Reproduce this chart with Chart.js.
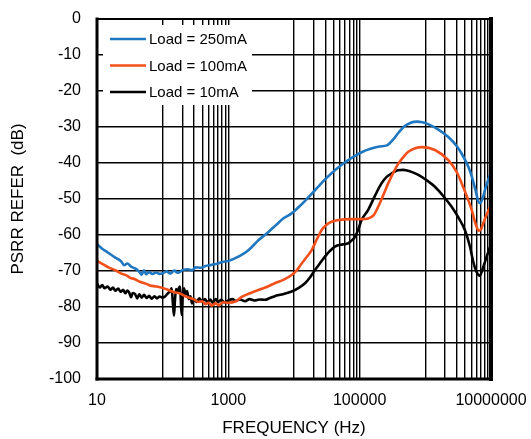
<!DOCTYPE html>
<html>
<head>
<meta charset="utf-8">
<script src="https://cdn.jsdelivr.net/npm/chart.js@4"></script>
<style>
    body { margin: 0; background: #fff; }
    #wrap { width: 531px; height: 439px; }
</style>
</head>
<body>
<div id="wrap"><canvas id="psrrChart"></canvas></div>
<script>
// -------------- Datos --------------

const freq250 = [10, 12, 15, 19, 23, 26, 29, 33, 38, 44, 48, 52, 56, 62, 70, 80, 90, 100, 115, 130, 150, 170, 200, 240, 280, 320, 380, 450, 550, 700, 850, 1000,
    1500, 2000, 2900, 4000, 5500, 7000, 9200, 13000, 21000, 30000, 42000, 60000, 80000, 107000, 150000, 200000, 260000, 320000, 390000, 480000, 600000, 750000, 900000,
    1100000, 1600000, 2240000, 3000000, 3600000, 4500000, 5100000, 5800000, 6400000, 6800000, 7400000, 8300000, 10000000];
const psrr250 = [-62.6, -63.8, -65.0, -66.3, -67.2, -68.4, -67.9, -68.8, -69.3, -70.2, -71.0, -69.8, -70.9, -70.3, -70.8, -70.4, -70.8, -70.6, -70.1, -70.7, -69.9, -70.5, -69.8, -69.5, -69.8, -69.0, -69.1, -68.6, -68.3, -67.9, -67.4, -67.2,
    -65.8, -64.3, -61.4, -59.3, -57.0, -55.3, -54.0, -51.5, -47.5, -44.5, -42.0, -39.8, -38.3, -37.0, -36.0, -35.4, -35.1, -33.6, -31.6, -29.8, -28.8, -28.5, -28.7,
    -29.2, -30.8, -32.8, -35.3, -37.5, -41.0, -43.8, -47.5, -50.6, -51.2, -50.0, -46.8, -42.5];

const freq100 = [10, 12, 15, 19, 24, 28, 32, 38, 45, 55, 64, 80, 100, 120, 150, 180, 220, 260, 300, 350, 400, 450, 500, 560, 640, 720, 820, 1000,
    1300, 1600, 2000, 2860, 4000, 5100, 7000, 9200, 11000, 13100, 15500, 18600, 22000, 26400, 31000, 37500, 50000, 70000, 107000, 135000, 165000, 192000,
    230000, 273000, 330000, 390000, 470000, 550000, 700000, 900000, 1400000, 2240000, 3000000, 3570000, 4300000, 5080000, 5800000, 6500000, 7000000, 7600000, 8500000, 10000000];
const psrr100 = [-67.2, -68.0, -69.0, -69.8, -70.8, -71.2, -71.9, -72.3, -73.0, -73.5, -74.0, -74.3, -74.7, -75.2, -75.9, -76.2, -77.0, -77.5, -77.9, -78.6, -78.4, -79.2, -78.8, -79.6, -79.0, -79.5, -78.7, -78.8,
    -78.4, -77.2, -76.4, -75.3, -74.3, -73.4, -72.4, -71.1, -69.8, -67.9, -66.2, -64.2, -61.4, -58.6, -57.2, -56.3, -55.8, -55.6, -55.6, -55.4, -54.4, -52.1,
    -48.8, -45.6, -42.5, -40.1, -38.2, -36.9, -35.9, -35.6, -36.4, -39.2, -42.5, -45.6, -49.3, -53.0, -56.8, -58.8, -58.5, -56.8, -54.5, -51.5];

const freq10 = [10, 11, 12, 13, 14.5, 16, 17.5, 19, 21, 23, 25, 27, 29, 31, 33, 35, 38, 41, 44, 48, 52, 57, 62, 68, 75, 82, 90, 100,
    110, 120, 130, 137, 143, 149, 154, 160, 170, 178, 184, 190, 195, 201, 211, 222, 235, 250, 265, 280, 300, 330, 360, 400, 440, 480, 530, 580, 640, 700, 780, 870, 1000,
    1150, 1300, 1500, 1800, 2100, 2500, 3000, 3600, 4300, 5100, 6500, 9200, 12000, 14700, 17500, 20900, 25000, 29600, 35000, 42000, 55000, 67100, 78000, 85000, 95000,
    107000, 135000, 170000, 216000, 260000, 308000, 380000, 462000, 600000, 782000, 1050000, 1400000, 1900000, 2500000, 3200000, 4000000, 4780000, 5380000, 6000000, 6760000, 7600000, 8600000, 10000000];
const psrr10 = [-73.4, -74.6, -73.9, -74.8, -74.3, -75.2, -74.6, -75.5, -74.9, -75.8, -75.2, -76.2, -75.4, -76.0, -77.3, -76.1, -76.4, -77.6, -76.5, -77.4, -76.6, -77.5, -76.9, -77.7, -77.0, -77.6, -77.1, -77.4,
    -77.0, -76.2, -75.6, -74.8, -79.0, -82.4, -78.0, -75.0, -75.8, -74.6, -74.3, -79.0, -82.2, -77.5, -74.8, -76.5, -75.6, -77.8, -77.0, -79.0, -77.8, -78.6, -77.6, -78.5, -77.8, -78.7, -77.9, -78.8, -77.8, -78.6, -78.0, -78.7, -78.2,
    -77.8, -78.3, -77.9, -78.4, -77.8, -78.2, -77.9, -78.0, -77.5, -77.0, -76.5, -75.7, -74.6, -73.4, -71.8, -69.7, -67.8, -66.0, -64.5, -63.2, -62.6, -62.3, -61.3, -60.5, -58.5,
    -55.8, -53.0, -49.2, -45.6, -43.8, -42.9, -42.0, -41.9, -42.4, -43.3, -44.8, -46.6, -49.3, -52.1, -55.2, -58.6, -63.2, -67.5, -70.2, -71.3, -69.0, -66.0, -62.5];

// Líneas verticales de la rejilla (décadas alternas) y etiquetas del eje X
const gridFreqs = [10, 100, 200, 300, 400, 500, 600, 700, 800, 900, 1000,
    10000, 20000, 30000, 40000, 50000, 60000, 70000, 80000, 90000, 100000,
    1000000, 2000000, 3000000, 4000000, 5000000, 6000000, 7000000, 8000000, 9000000, 10000000];
const labeledFreqs = [10, 1000, 100000, 10000000];

const seriesLabels = ['Load = 250mA', 'Load = 100mA', 'Load = 10mA'];

// -------------- Gráfica --------------

document.addEventListener('DOMContentLoaded', initChart);

function initChart() {
    const ctx = document.getElementById('psrrChart');

    const toPoints = (xs, ys) => xs.map((x, i) => ({ x, y: ys[i] }));

    new Chart(ctx, {
        type: 'line',
        data: {
            datasets: [
                makeDataset(seriesLabels[0], toPoints(freq250, psrr250), '#1f77c0'),
                makeDataset(seriesLabels[1], toPoints(freq100, psrr100), '#f2501a'),
                makeDataset(seriesLabels[2], toPoints(freq10, psrr10), '#000000')
            ]
        },
        options: chartOptions(),
        plugins: [legendBoxPlugin, framePlugin]
    });
}

function makeDataset(label, data, color) {
    return {
        label,
        data,
        borderColor: color,
        backgroundColor: color,
        borderWidth: 2.6,
        pointRadius: 0,
        fill: false,
        cubicInterpolationMode: 'monotone'
    };
}

function chartOptions() {
    const font = { family: "'Liberation Sans', Arial, sans-serif" };
    return {
        responsive: true,
        maintainAspectRatio: false,
        animation: false,
        layout: { padding: { top: 19, right: 40, left: 0, bottom: 0 } },
        plugins: {
            legend: { display: false },
            tooltip: { enabled: false }
        },
        scales: {
            x: {
                type: 'logarithmic',
                min: 10,
                max: 10000000,
                afterBuildTicks: scale => { scale.ticks = gridFreqs.map(v => ({ value: v })); },
                afterFit: scale => {
                    scale.height = 60;
                    scale.paddingLeft = 0;
                    scale.paddingRight = 0;
                },
                ticks: {
                    autoSkip: false,
                    maxRotation: 0,
                    padding: 12,
                    color: '#000',
                    font: { ...font, size: 16 },
                    callback: value => labeledFreqs.includes(value) ? String(value) : ''
                },
                grid: { color: '#000', lineWidth: 1.4, drawTicks: false },
                border: { display: false },
                title: {
                    display: true,
                    text: 'FREQUENCY (Hz)',
                    color: '#000',
                    font: { ...font, size: 17 },
                    padding: { top: 0, bottom: 0 }
                }
            },
            y: {
                min: -100,
                max: 0,
                afterFit: scale => {
                    scale.width = 97;
                    scale.paddingTop = 0;
                    scale.paddingBottom = 0;
                },
                ticks: {
                    stepSize: 10,
                    padding: 16,
                    color: '#000',
                    font: { ...font, size: 16 },
                    callback: value => String(value)
                },
                grid: { color: '#000', lineWidth: 1.4, drawTicks: false },
                border: { display: false },
                title: {
                    display: true,
                    text: 'PSRR REFER  (dB)',
                    color: '#000',
                    font: { ...font, size: 17 },
                    padding: { top: 8, bottom: 0 }
                }
            }
        }
    };
}

// ---------------- Leyenda dentro del área ----------------

const legendBoxPlugin = {
    id: 'legendBox',
    beforeDatasetsDraw(chart) {
        const { ctx, chartArea } = chart;
        const left = chartArea.left + 6;
        const top = chartArea.top + 6;

        ctx.save();
        ctx.fillStyle = '#fff';
        ctx.fillRect(left, top, 149, 80);

        ctx.font = "15px 'Liberation Sans', Arial, sans-serif";
        ctx.textBaseline = 'middle';
        chart.data.datasets.forEach((ds, i) => {
            const y = top + 14 + i * 26.5;
            ctx.strokeStyle = ds.borderColor;
            ctx.lineWidth = 2.6;
            ctx.beginPath();
            ctx.moveTo(left + 7, y);
            ctx.lineTo(left + 43, y);
            ctx.stroke();
            ctx.fillStyle = '#000';
            ctx.fillText(ds.label, left + 46, y + 1);
        });
        ctx.restore();
    }
};

// ---------------- Marco grueso ----------------

const framePlugin = {
    id: 'frame',
    afterDatasetsDraw(chart) {
        const { ctx, chartArea: a } = chart;
        ctx.save();
        ctx.strokeStyle = '#000';
        ctx.lineCap = 'square';
        line(ctx, a.left, a.top, a.right, a.top, 2);
        line(ctx, a.left, a.top, a.left, a.bottom, 3);
        line(ctx, a.left, a.bottom, a.right, a.bottom, 3);
        line(ctx, a.right, a.top, a.right, a.bottom, 4);
        ctx.restore();
    }
};

function line(ctx, x1, y1, x2, y2, w) {
    ctx.lineWidth = w;
    ctx.beginPath();
    ctx.moveTo(x1, y1);
    ctx.lineTo(x2, y2);
    ctx.stroke();
}
</script>
</body>
</html>
